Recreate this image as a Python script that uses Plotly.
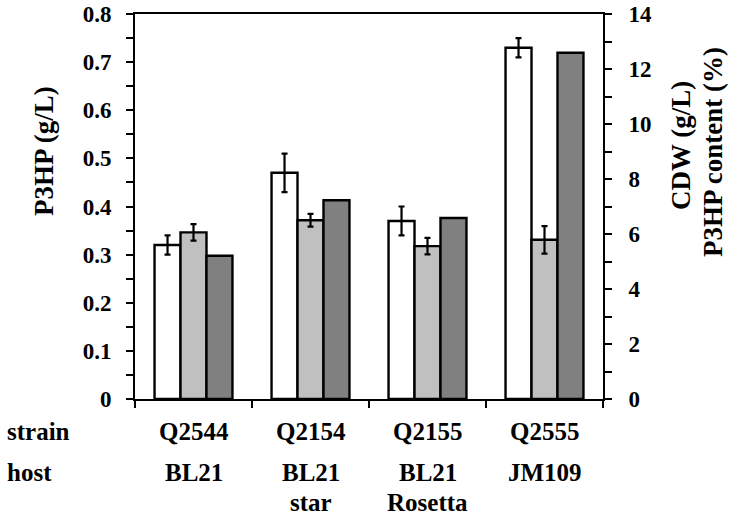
import plotly.graph_objects as go

strains = ["Q2544", "Q2154", "Q2155", "Q2555"]
hosts = ["BL21", "BL21<br>star", "BL21<br>Rosetta", "JM109"]

p3hp = [0.32, 0.47, 0.37, 0.73]
p3hp_err = [0.02, 0.04, 0.03, 0.02]
cdw = [6.06, 6.50, 5.56, 5.79]
cdw_err = [0.30, 0.23, 0.30, 0.50]
content = [5.21, 7.23, 6.58, 12.59]

FONT = "Liberation Serif"
W = 0.222

fig = go.Figure()
fig.add_trace(go.Bar(
    x=strains, y=p3hp, name="P3HP (g/L)", yaxis="y",
    offset=-1.5 * W, width=W,
    marker=dict(color="white", line=dict(color="black", width=2.4)),
    error_y=dict(type="data", array=p3hp_err, color="black", thickness=2.2, width=3),
))
fig.add_trace(go.Bar(
    x=strains, y=cdw, name="CDW (g/L)", yaxis="y2",
    offset=-0.5 * W, width=W,
    marker=dict(color="#c0c0c0", line=dict(color="black", width=2.4)),
    error_y=dict(type="data", array=cdw_err, color="black", thickness=2.2, width=3),
))
fig.add_trace(go.Bar(
    x=strains, y=content, name="P3HP content (%)", yaxis="y2",
    offset=0.5 * W, width=W,
    marker=dict(color="#808080", line=dict(color="black", width=2.4)),
))

tickfont = dict(family=FONT, size=23, color="black", weight="bold")

fig.update_layout(
    width=733, height=518,
    margin=dict(l=135, r=130, t=14, b=119, autoexpand=False),
    paper_bgcolor="white", plot_bgcolor="white",
    showlegend=False, barmode="overlay",
    font=dict(family=FONT, color="black"),
    xaxis=dict(
        type="category", range=[-0.5, 3.5], automargin=False,
        showline=True, linecolor="black", linewidth=2, mirror=True,
        ticks="outside", tickson="boundaries", ticklen=7, tickwidth=2, tickcolor="black",
        showticklabels=False, showgrid=False, zeroline=False,
    ),
    yaxis=dict(
        range=[0, 0.8], dtick=0.1, automargin=False,
        showline=True, linecolor="black", linewidth=2,
        ticks="outside", ticklen=7, tickwidth=2, tickcolor="black",
        minor=dict(dtick=0.05, ticks="outside", ticklen=7, tickwidth=2, tickcolor="black"),
        showgrid=False, zeroline=False, tickfont=tickfont, ticklabelstandoff=10,
    ),
    yaxis2=dict(
        range=[0, 14], dtick=2, overlaying="y", side="right", automargin=False,
        showline=True, linecolor="black", linewidth=2,
        ticks="outside", ticklen=7, tickwidth=2, tickcolor="black",
        minor=dict(dtick=1, ticks="outside", ticklen=7, tickwidth=2, tickcolor="black"),
        showgrid=False, zeroline=False, tickfont=tickfont, ticklabelstandoff=12,
    ),
)

labfont = dict(family=FONT, size=25, color="black", weight="bold")
titlefont = dict(family=FONT, size=27, color="black", weight="bold")

def ypix(py):
    return (518 - 119 - py) / (518 - 119 - 14)

def xpix(px):
    return (px - 135) / (733 - 135 - 130)

ann = []
ann.append(dict(text="strain", xref="paper", yref="paper", x=xpix(5), y=ypix(432),
                xanchor="left", yanchor="middle", showarrow=False, font=labfont))
ann.append(dict(text="host", xref="paper", yref="paper", x=xpix(5), y=ypix(472),
                xanchor="left", yanchor="middle", showarrow=False, font=labfont))
for s, h in zip(strains, hosts):
    ann.append(dict(text=s, xref="x", yref="paper", x=s, y=ypix(432),
                    xanchor="center", yanchor="middle", showarrow=False, font=labfont))
    lines = h.split("<br>")
    ann.append(dict(text=lines[0], xref="x", yref="paper", x=s, y=ypix(472),
                    xanchor="center", yanchor="middle", showarrow=False, font=labfont))
    for line in lines[1:]:
        ann.append(dict(text=line, xref="x", yref="paper", x=s, y=ypix(518),
                        xanchor="center", yanchor="bottom", showarrow=False, font=labfont))
ann.append(dict(text="P3HP (g/L)", xref="paper", yref="paper", x=xpix(44), y=ypix(151),
                xanchor="center", yanchor="middle", textangle=-90, showarrow=False, font=titlefont))
ann.append(dict(text="CDW (g/L)", xref="paper", yref="paper", x=xpix(681), y=ypix(146),
                xanchor="center", yanchor="middle", textangle=-90, showarrow=False, font=titlefont))
ann.append(dict(text="P3HP content (%)", xref="paper", yref="paper", x=xpix(713), y=ypix(152),
                xanchor="center", yanchor="middle", textangle=-90, showarrow=False, font=titlefont))
fig.update_layout(annotations=ann)

fig.write_html("out.html", config={"displayModeBar": False},
               post_script="document.body.style.margin='0';")
